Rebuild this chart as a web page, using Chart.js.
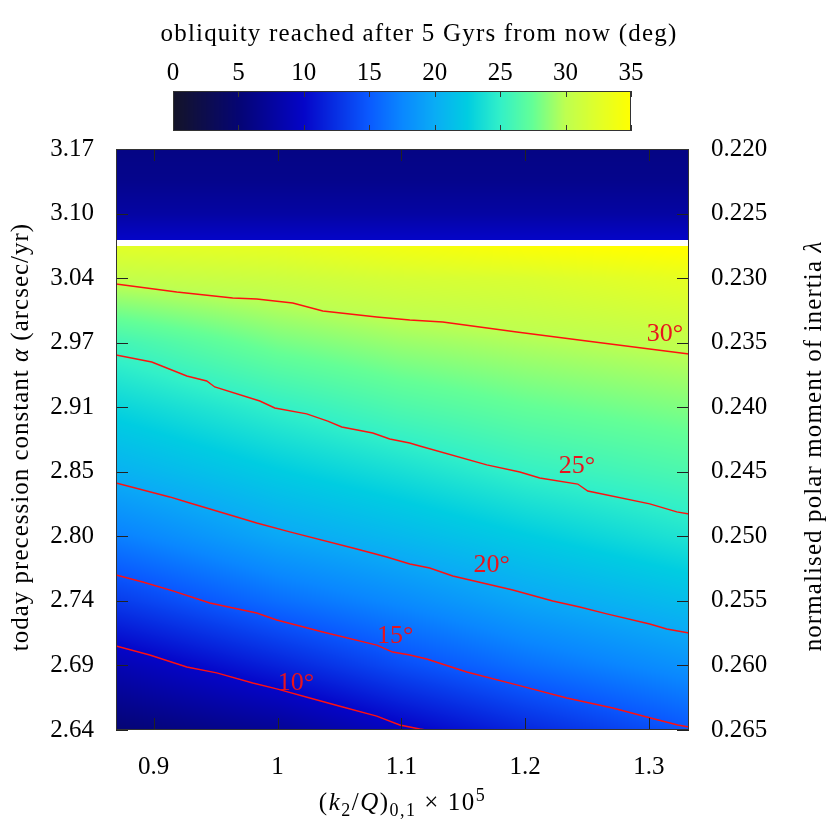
<!DOCTYPE html>
<html>
<head>
<meta charset="utf-8">
<script src="https://cdn.jsdelivr.net/npm/chart.js@4.4.0/dist/chart.umd.min.js"></script>
<style>
body { margin: 0; background: #fff; }
#wrap { position: relative; width: 830px; height: 830px; }
#mainChart, #barChart { position: absolute; left: 0; top: 0; }
</style>
</head>
<body>
<div id="wrap">
<canvas id="mainChart" width="830" height="830"></canvas>
<canvas id="barChart" width="830" height="140"></canvas>
</div>
<script>
// colour bar
const barTicks = [0, 5, 10, 15, 20, 25, 30, 35];
const cmapStops = [0, 5, 10, 15, 17.5, 20, 22.5, 25, 27.5, 30, 32.5, 35];
const cmapColors = [[20, 20, 40], [5, 5, 115], [5, 5, 200], [10, 90, 255], [10, 135, 255], [10, 172, 245],
    [0, 205, 225], [50, 240, 200], [100, 255, 150], [190, 255, 80], [225, 255, 40], [255, 255, 0]];

// axes
const xTicks = [0.9, 1.0, 1.1, 1.2, 1.3];
const xTickLabels = ['0.9', '1', '1.1', '1.2', '1.3'];
const lambdaTicks = [0.220, 0.225, 0.230, 0.235, 0.240, 0.245, 0.250, 0.255, 0.260, 0.265];
const lambdaLabels = ['0.220', '0.225', '0.230', '0.235', '0.240', '0.245', '0.250', '0.255', '0.260', '0.265'];
const alphaLabels = ['3.17', '3.10', '3.04', '2.97', '2.91', '2.85', '2.80', '2.74', '2.69', '2.64'];

// obliquity map below the gap (rows = lambda, cols = k2/Q)
const gridX = [0.8695, 1.0, 1.1, 1.2, 1.3325];
const gridLambda = [0.2275, 0.230, 0.235, 0.240, 0.245, 0.250, 0.255, 0.260, 0.265];
const gridValues = [
    [32.6, 33.0, 34.0, 34.8, 35.5],
    [30.4, 31.0, 31.7, 32.0, 33.0],
    [25.8, 28.0, 29.0, 29.6, 30.3],
    [23.0, 25.0, 26.4, 27.4, 28.3],
    [20.4, 22.4, 23.7, 25.1, 26.3],
    [17.1, 19.7, 21.0, 22.4, 24.1],
    [13.2, 16.1, 17.8, 19.6, 21.3],
    [8.7, 11.7, 14.2, 16.2, 18.3],
    [5.0, 7.0, 9.6, 12.0, 14.8]
];

// band above the gap
const topLambda = [0.220, 0.2225, 0.225, 0.22705];
const topValues = [6.0, 6.5, 7.8, 10.0];
const gapLambda = [0.22705, 0.2275];

// contour lines
const contourLevels = [10, 15, 20, 25, 30];
const contourX = [
    [0.8695, 0.8968, 0.9267, 0.9509, 0.9800, 0.9994, 1.0261, 1.0527, 1.0802, 1.0988, 1.1149, 1.1200],
    [0.8695, 0.8911, 0.9154, 0.9453, 0.9832, 0.9994, 1.0366, 1.0802, 1.0931, 1.1069, 1.1206, 1.1529, 1.1933, 1.2337, 1.2709, 1.2984, 1.3234, 1.3325],
    [0.8695, 0.9129, 0.9291, 0.9671, 0.9832, 1.0099, 1.0640, 1.0883, 1.1069, 1.1230, 1.1416, 1.1901, 1.2224, 1.2442, 1.2661, 1.3008, 1.3145, 1.3325],
    [0.8695, 0.8984, 0.9267, 0.9428, 0.9493, 0.9857, 0.9978, 1.0236, 1.0406, 1.0519, 1.0770, 1.0907, 1.1069, 1.1149, 1.1691, 1.1958, 1.2119, 1.2426, 1.2507, 1.3008, 1.3226, 1.3325],
    [0.8695, 0.9186, 0.9638, 0.9832, 1.0123, 1.0366, 1.0802, 1.1069, 1.1335, 1.1933, 1.2499, 1.3325]
];
const contourY = [
    [0.25849, 0.25919, 0.26012, 0.26058, 0.26136, 0.26182, 0.26252, 0.26322, 0.26392, 0.26461, 0.26492, 0.26500],
    [0.25299, 0.25354, 0.25423, 0.25516, 0.25594, 0.25648, 0.25741, 0.25842, 0.25896, 0.25919, 0.25950, 0.26051, 0.26151, 0.26252, 0.26330, 0.26399, 0.26461, 0.26477],
    [0.24587, 0.24695, 0.24742, 0.24850, 0.24897, 0.24966, 0.25098, 0.25160, 0.25214, 0.25245, 0.25307, 0.25416, 0.25501, 0.25547, 0.25601, 0.25679, 0.25718, 0.25749],
    [0.23595, 0.23650, 0.23758, 0.23797, 0.23843, 0.23952, 0.24006, 0.24052, 0.24107, 0.24153, 0.24200, 0.24246, 0.24277, 0.24300, 0.24447, 0.24502, 0.24548, 0.24595, 0.24649, 0.24749, 0.24811, 0.24827],
    [0.23046, 0.23108, 0.23154, 0.23162, 0.23193, 0.23255, 0.23301, 0.23324, 0.23340, 0.23417, 0.23487, 0.23588]
];
const contourLabelX = [1.015, 1.095, 1.173, 1.242, 1.313];
const contourLabelY = [0.26136, 0.25772, 0.25222, 0.24455, 0.23433];

const FONT = '"Liberation Serif", "Times New Roman", serif';
const FONT_SIZE = 25;

function cmap(v) {
    if (v <= cmapStops[0]) return cmapColors[0];
    for (let i = 1; i < cmapStops.length; i++) {
        if (v <= cmapStops[i]) {
            let t = (v - cmapStops[i - 1]) / (cmapStops[i] - cmapStops[i - 1]);
            let a = cmapColors[i - 1], b = cmapColors[i];
            return [a[0] + t * (b[0] - a[0]), a[1] + t * (b[1] - a[1]), a[2] + t * (b[2] - a[2])];
        }
    }
    return cmapColors[cmapColors.length - 1];
}

function findCell(arr, v) {
    let i = 0;
    while (i < arr.length - 2 && v > arr[i + 1]) i++;
    let t = (v - arr[i]) / (arr[i + 1] - arr[i]);
    return [i, Math.max(0, Math.min(1, t))];
}

function obliquityAt(x, lam) {
    if (lam < gapLambda[0]) {
        let [r, s] = findCell(topLambda, lam);
        return topValues[r] + s * (topValues[r + 1] - topValues[r]);
    }
    if (lam < gapLambda[1]) return null;
    let [c, t] = findCell(gridX, x);
    let [r, s] = findCell(gridLambda, lam);
    let v0 = gridValues[r][c] + t * (gridValues[r][c + 1] - gridValues[r][c]);
    let v1 = gridValues[r + 1][c] + t * (gridValues[r + 1][c + 1] - gridValues[r + 1][c]);
    return v0 + s * (v1 - v0);
}

// draws a list of text runs (plain / italic / sub / sup) centred on x
function drawRuns(ctx, runs, x, y, size, spacing) {
    ctx.letterSpacing = (spacing || 0) + 'px';
    let widths = runs.map(r => {
        ctx.font = runFont(r, size);
        return ctx.measureText(r.t).width;
    });
    let total = widths.reduce((a, b) => a + b, 0);
    let cx = x - total / 2;
    ctx.textAlign = 'left';
    ctx.textBaseline = 'alphabetic';
    runs.forEach((r, i) => {
        ctx.font = runFont(r, size);
        let dy = r.sub ? size * 0.22 : (r.sup ? -size * 0.38 : 0);
        ctx.fillText(r.t, cx, y + dy);
        cx += widths[i];
    });
    ctx.letterSpacing = '0px';
}

function runFont(r, size) {
    let s = (r.sub || r.sup) ? Math.round(size * 0.7) : size;
    return (r.it ? 'italic ' : '') + s + 'px ' + FONT;
}

const heatmapPlugin = {
    id: 'heatmap',
    beforeDatasetsDraw(chart) {
        let area = chart.chartArea;
        let xs = chart.scales.x, ys = chart.scales.y;
        let w = Math.round(area.right - area.left), h = Math.round(area.bottom - area.top);
        let off = document.createElement('canvas');
        off.width = w; off.height = h;
        let octx = off.getContext('2d');
        let img = octx.createImageData(w, h);
        for (let py = 0; py < h; py++) {
            let lam = ys.getValueForPixel(area.top + py + 0.5);
            for (let px = 0; px < w; px++) {
                let x = xs.getValueForPixel(area.left + px + 0.5);
                let v = obliquityAt(x, lam);
                let k = (py * w + px) * 4;
                let col = v === null ? [255, 255, 255] : cmap(v);
                img.data[k] = col[0]; img.data[k + 1] = col[1]; img.data[k + 2] = col[2]; img.data[k + 3] = 255;
            }
        }
        octx.putImageData(img, 0, 0);
        chart.ctx.drawImage(off, area.left, area.top);
    }
};

const framePlugin = {
    id: 'frame',
    afterDatasetsDraw(chart) {
        let ctx = chart.ctx, area = chart.chartArea;
        let xs = chart.scales.x, ys = chart.scales.y;
        ctx.save();
        // contour labels
        ctx.fillStyle = '#e8141e';
        ctx.font = '26px ' + FONT;
        ctx.textAlign = 'center';
        ctx.textBaseline = 'middle';
        contourLevels.forEach((lvl, i) => {
            ctx.fillText(lvl + '°', xs.getPixelForValue(contourLabelX[i]), ys.getPixelForValue(contourLabelY[i]));
        });
        // inward ticks
        ctx.strokeStyle = '#222';
        ctx.lineWidth = 1;
        ctx.beginPath();
        xTicks.forEach(v => {
            let p = Math.round(xs.getPixelForValue(v)) + 0.5;
            ctx.moveTo(p, area.bottom); ctx.lineTo(p, area.bottom - 12);
            ctx.moveTo(p, area.top); ctx.lineTo(p, area.top + 12);
        });
        lambdaTicks.forEach(v => {
            let p = Math.round(ys.getPixelForValue(v)) + 0.5;
            ctx.moveTo(area.left, p); ctx.lineTo(area.left + 12, p);
            ctx.moveTo(area.right, p); ctx.lineTo(area.right - 12, p);
        });
        ctx.stroke();
        ctx.strokeStyle = '#333';
        ctx.strokeRect(area.left + 0.5, area.top + 0.5, area.right - area.left - 1, area.bottom - area.top - 1);
        // axis titles
        ctx.fillStyle = '#000';
        drawRuns(ctx, [{ t: '(' }, { t: 'k', it: true }, { t: '2', sub: true }, { t: '/' }, { t: 'Q', it: true },
            { t: ')' }, { t: '0,1', sub: true }, { t: ' × 10' }, { t: '5', sup: true }],
            (area.left + area.right) / 2, 810, FONT_SIZE, 1.5);
        ctx.translate(28, 437);
        ctx.rotate(-Math.PI / 2);
        drawRuns(ctx, [{ t: 'today precession constant ' }, { t: 'α', it: true }, { t: ' (arcsec/yr)' }], 0, 0, FONT_SIZE, 1);
        ctx.setTransform(1, 0, 0, 1, 0, 0);
        ctx.translate(821, 446);
        ctx.rotate(-Math.PI / 2);
        drawRuns(ctx, [{ t: 'normalised polar moment of inertia ' }, { t: 'λ', it: true }], 0, 0, FONT_SIZE, 1.1);
        ctx.restore();
    }
};

const tickFont = { family: FONT, size: FONT_SIZE };

var mainChart = new Chart(document.getElementById('mainChart'), {
    type: 'scatter',
    data: {
        datasets: contourLevels.map((lvl, i) => ({
            label: lvl + '°',
            data: contourX[i].map((x, j) => ({ x: x, y: contourY[i][j] })),
            showLine: true,
            borderColor: '#ff1010',
            borderWidth: 1.4,
            pointRadius: 0,
            tension: 0
        }))
    },
    options: {
        responsive: false,
        animation: false,
        layout: { padding: { top: 149, left: 0, right: 0, bottom: 0 } },
        plugins: { legend: { display: false }, tooltip: { enabled: false } },
        scales: {
            x: {
                type: 'linear', min: 0.8695, max: 1.3325,
                afterBuildTicks: s => { s.ticks = xTicks.map(v => ({ value: v })); },
                afterFit: s => { s.height = 100; },
                ticks: { font: tickFont, color: '#000', padding: 22, maxRotation: 0, autoSkip: false,
                    callback: (v, i) => xTickLabels[i] },
                grid: { display: false, drawTicks: false },
                border: { display: false }
            },
            y: {
                type: 'linear', position: 'left', reverse: true, min: 0.220, max: 0.265,
                afterBuildTicks: s => { s.ticks = lambdaTicks.map(v => ({ value: v })); },
                afterFit: s => { s.width = 116; },
                ticks: { font: tickFont, color: '#000', padding: 22, autoSkip: false,
                    callback: (v, i) => alphaLabels[i] },
                grid: { display: false, drawTicks: false },
                border: { display: false }
            },
            y2: {
                type: 'linear', position: 'right', reverse: true, min: 0.220, max: 0.265,
                afterBuildTicks: s => { s.ticks = lambdaTicks.map(v => ({ value: v })); },
                afterFit: s => { s.width = 141; },
                ticks: { font: tickFont, color: '#000', padding: 22, autoSkip: false,
                    callback: (v, i) => lambdaLabels[i] },
                grid: { display: false, drawTicks: false },
                border: { display: false }
            }
        }
    },
    plugins: [heatmapPlugin, framePlugin]
});

const colorbarPlugin = {
    id: 'colorbar',
    beforeDatasetsDraw(chart) {
        let ctx = chart.ctx, area = chart.chartArea, xs = chart.scales.x;
        ctx.save();
        for (let px = Math.floor(area.left); px < area.right; px++) {
            let c = cmap(xs.getValueForPixel(px + 0.5));
            ctx.fillStyle = 'rgb(' + c.map(Math.round).join(',') + ')';
            ctx.fillRect(px, area.top, 1, area.bottom - area.top);
        }
        ctx.strokeStyle = '#333';
        ctx.lineWidth = 1;
        ctx.beginPath();
        barTicks.forEach(v => {
            let p = Math.round(xs.getPixelForValue(v)) + 0.5;
            ctx.moveTo(p, area.top); ctx.lineTo(p, area.top + 6);
            ctx.moveTo(p, area.bottom); ctx.lineTo(p, area.bottom - 6);
        });
        ctx.stroke();
        ctx.strokeRect(area.left + 0.5, area.top + 0.5, area.right - area.left - 1, area.bottom - area.top - 1);
        ctx.fillStyle = '#000';
        drawRuns(ctx, [{ t: 'obliquity reached after 5 Gyrs from now (deg)' }], 419, 41, FONT_SIZE, 1.2);
        ctx.restore();
    }
};

var barChart = new Chart(document.getElementById('barChart'), {
    type: 'scatter',
    data: { datasets: [] },
    options: {
        responsive: false,
        animation: false,
        layout: { padding: { left: 173, right: 199, top: 0, bottom: 9 } },
        plugins: { legend: { display: false }, tooltip: { enabled: false } },
        scales: {
            x: {
                type: 'linear', position: 'top', min: 0, max: 35,
                afterBuildTicks: s => { s.ticks = barTicks.map(v => ({ value: v })); },
                afterFit: s => { s.height = 91; },
                ticks: { font: tickFont, color: '#000', padding: 3, maxRotation: 0, autoSkip: false,
                    callback: v => String(v) },
                grid: { display: false, drawTicks: false },
                border: { display: false }
            },
            y: { display: false, min: 0, max: 1 }
        }
    },
    plugins: [colorbarPlugin]
});
</script>
</body>
</html>
